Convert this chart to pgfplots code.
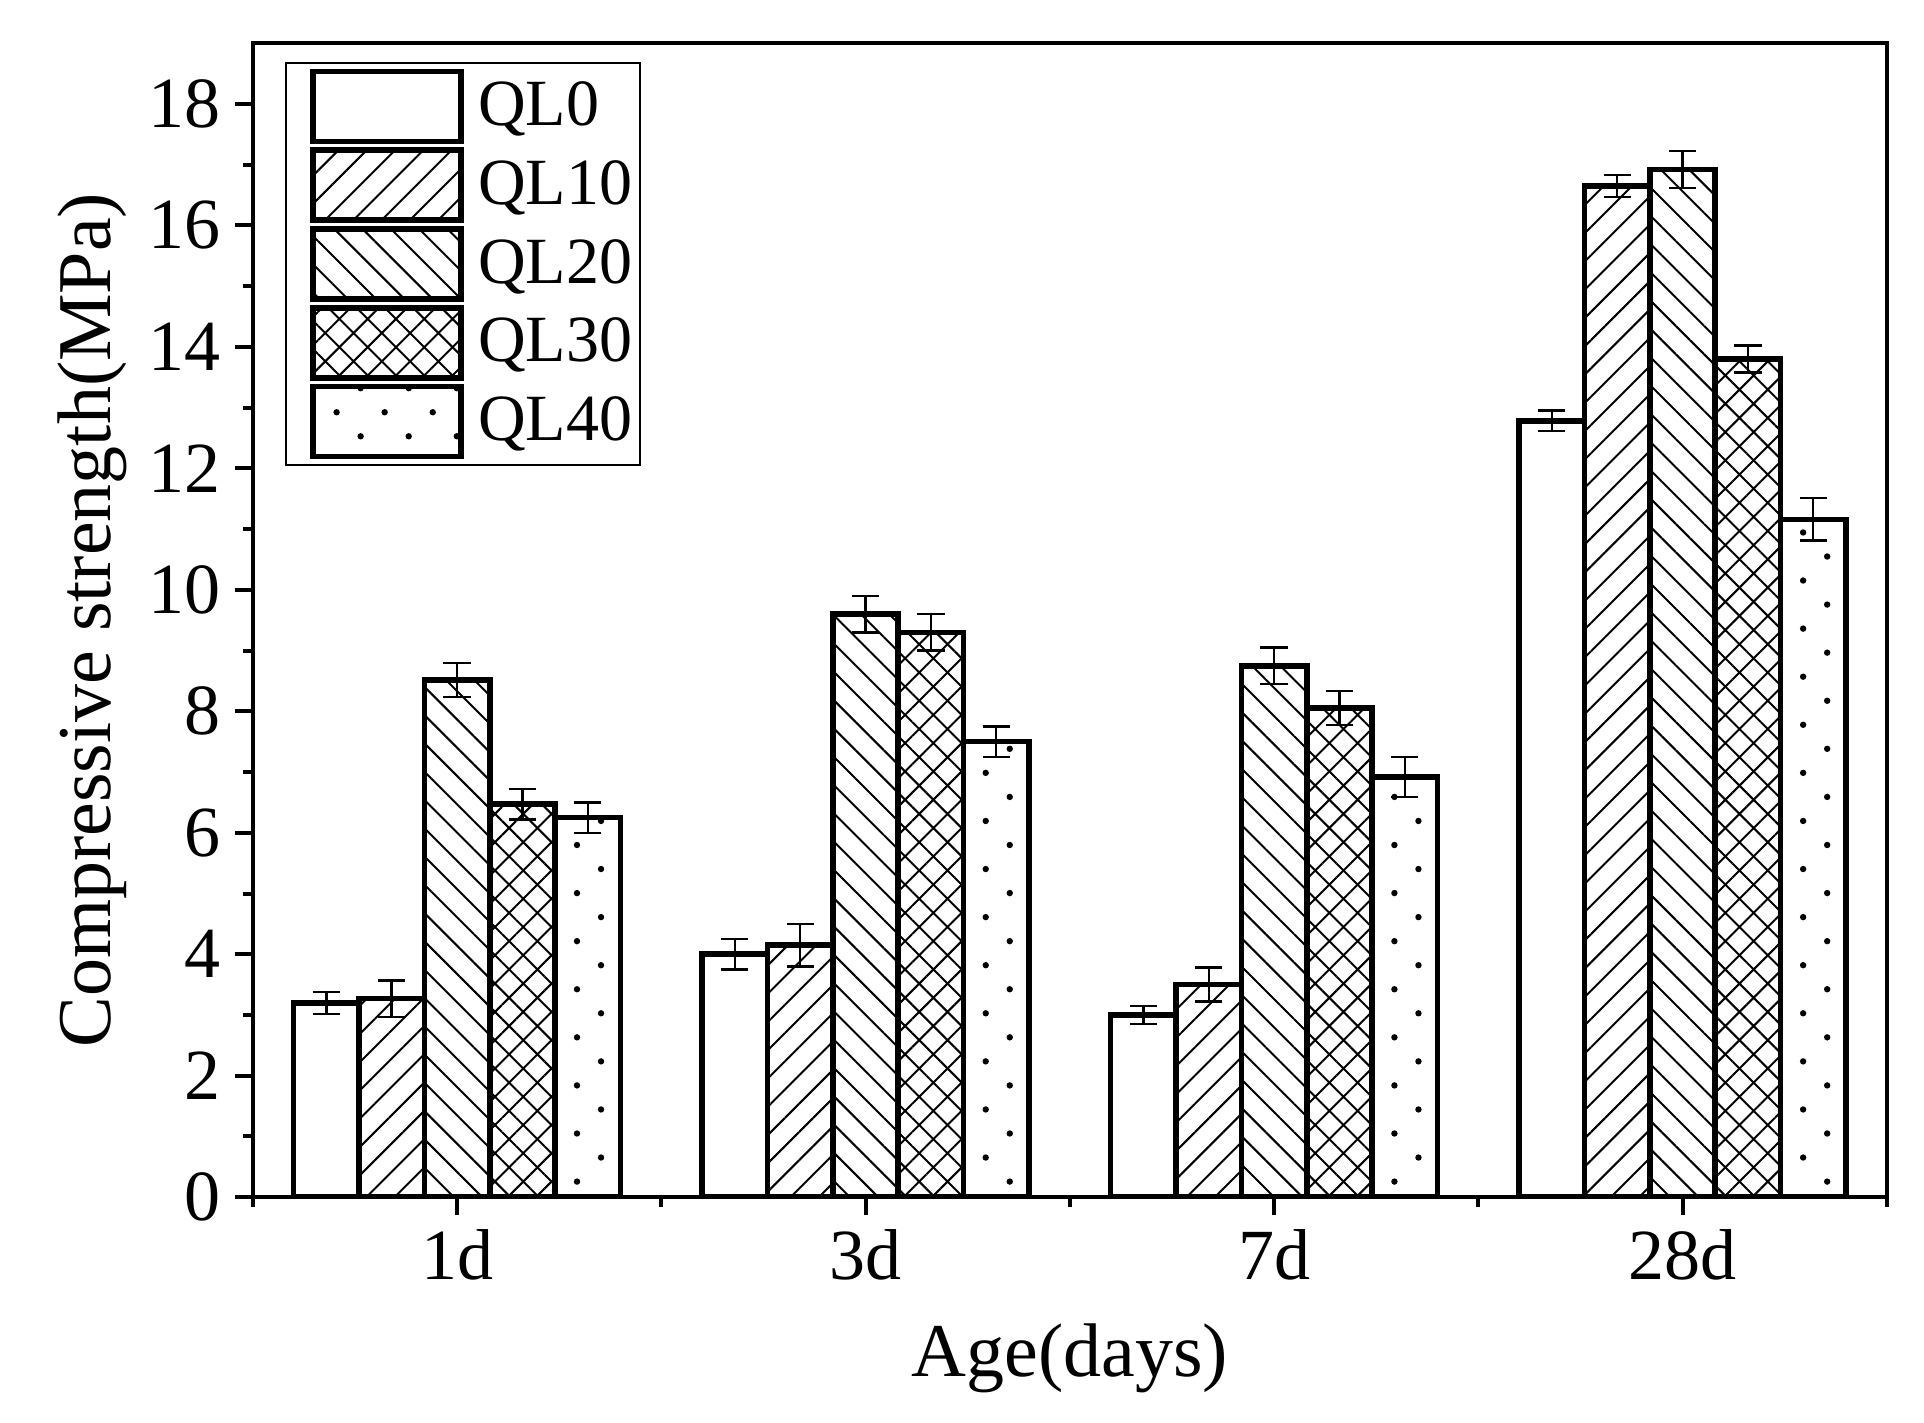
\documentclass[border=0pt]{standalone}
\usepackage{fontspec}
\setmainfont{Liberation Serif}
\usepackage{pgfplots}
\pgfplotsset{compat=1.18}
\usepackage{pgfplotstable}
\usetikzlibrary{patterns.meta}

\pgfplotstableread{
x y e
1 3.20 0.18
2 4.00 0.25
3 3.00 0.15
4 12.78 0.17
}\qlzero
\pgfplotstableread{
x y e
1 3.27 0.30
2 4.15 0.35
3 3.50 0.28
4 16.65 0.18
}\qlten
\pgfplotstableread{
x y e
1 8.52 0.28
2 9.60 0.30
3 8.75 0.30
4 16.92 0.30
}\qltwenty
\pgfplotstableread{
x y e
1 6.47 0.25
2 9.30 0.30
3 8.05 0.28
4 13.80 0.22
}\qlthirty
\pgfplotstableread{
x y e
1 6.25 0.25
2 7.50 0.25
3 6.92 0.33
4 11.16 0.35
}\qlforty

\begin{document}
\begin{tikzpicture}
\useasboundingbox (0,0) rectangle (481pt,355.5pt);
\begin{axis}[
  at={(63.2pt,56.2pt)}, anchor=south west,
  scale only axis, width=408.5pt, height=288.5pt,
  ybar, bar width=0.16,
  xmin=0.5, xmax=4.5, ymin=0, ymax=19,
  xtick={1,2,3,4}, xticklabels={1d,3d,7d,28d},
  minor xtick={0.5,1.5,2.5,3.5,4.5},
  ytick={0,2,...,18}, minor y tick num=1,
  xtick pos=bottom, ytick pos=left,
  tick align=outside,
  major tick length=4.5pt, minor tick length=2.5pt,
  tick style={line width=1pt, black},
  axis line style={line width=1pt},
  /pgf/number format/assume math mode=true,
  ticklabel style={font=\fontsize{18}{20}\selectfont},
  label style={font=\fontsize{19}{22}\selectfont},
  xlabel={Age(days)}, ylabel={Compressive strength(MPa)},
  xlabel style={at={(axis description cs:0.5,-0.14)}, anchor=center},
  ylabel style={at={(axis description cs:-0.098,0.5)}, anchor=center},
  legend image code/.code={\path (0pt,0pt) (44.5pt,0pt); \draw[#1, line width=1.4pt] (6pt,-8.75pt) rectangle (43pt,8.75pt);},
  legend cell align=left,
  legend style={at={(axis description cs:0.02,0.984)}, anchor=north west,
    draw=black, line width=0.5pt, font=\fontsize{16.5}{18}\selectfont,
    row sep=0.8pt, inner xsep=0pt, inner ysep=1.5pt,
    /tikz/every even column/.append style={column sep=0pt}},
  every axis plot/.append style={draw=black, line width=1.4pt},
  error bars/error bar style={line width=0.6pt, black},
  error bars/error mark options={rotate=90, line width=0.6pt, black, mark size=3.4pt},
]
\addplot[fill=white, bar shift=-0.32, error bars/.cd, y dir=both, y explicit]
  table[x=x, y=y, y error=e]{\qlzero};
\addplot[pattern={Lines[angle=45, distance=5pt, line width=0.5pt]}, pattern color=black, bar shift=-0.16, error bars/.cd, y dir=both, y explicit]
  table[x=x, y=y, y error=e]{\qlten};
\addplot[pattern={Lines[angle=-45, distance=5pt, line width=0.5pt]}, pattern color=black, bar shift=0, error bars/.cd, y dir=both, y explicit]
  table[x=x, y=y, y error=e]{\qltwenty};
\addplot[pattern={Hatch[angle=45, distance=5pt, line width=0.5pt]}, pattern color=black, bar shift=0.16, error bars/.cd, y dir=both, y explicit]
  table[x=x, y=y, y error=e]{\qlthirty};
\addplot[pattern={Dots[angle=45, distance=8.5pt, radius=0.8pt]}, pattern color=black, bar shift=0.32, error bars/.cd, y dir=both, y explicit]
  table[x=x, y=y, y error=e]{\qlforty};
\legend{QL0,QL10,QL20,QL30,QL40}
\end{axis}
\end{tikzpicture}
\end{document}
